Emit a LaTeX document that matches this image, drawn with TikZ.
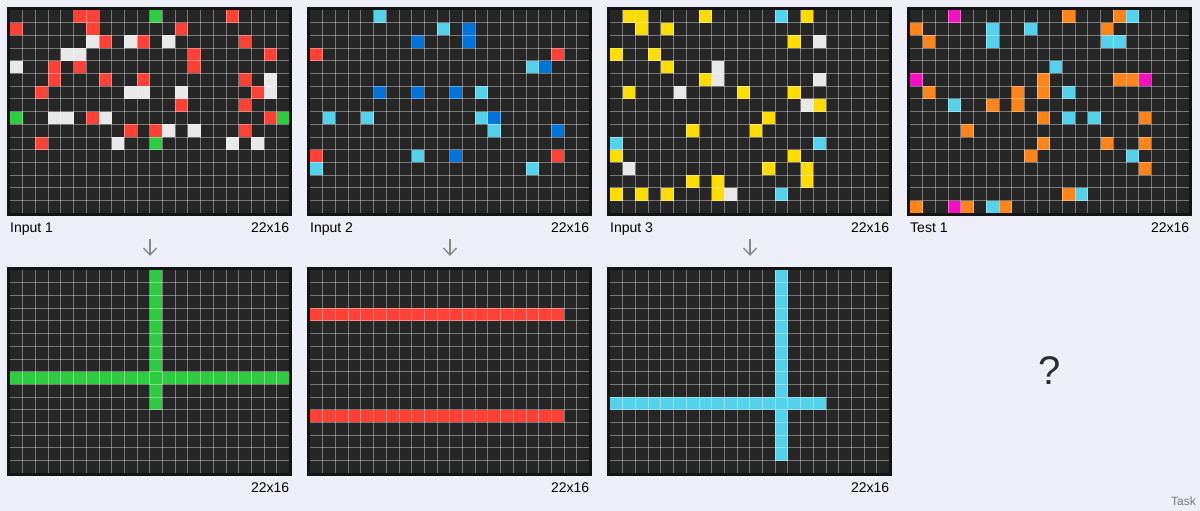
\documentclass[tikz,border=0pt]{standalone}
\usepackage{fontspec}
\setmainfont{Liberation Sans}
\usetikzlibrary{arrows.meta}
\definecolor{bg}{RGB}{238,238,246}
\definecolor{cellbg}{RGB}{38,38,38}
\definecolor{framec}{RGB}{20,20,20}
\definecolor{cR}{RGB}{255,65,54}
\definecolor{cG}{RGB}{46,204,64}
\definecolor{cW}{RGB}{232,232,232}
\definecolor{cB}{RGB}{0,116,217}
\definecolor{cC}{RGB}{85,210,235}
\definecolor{cY}{RGB}{255,220,0}
\definecolor{cO}{RGB}{255,133,27}
\definecolor{cM}{RGB}{240,18,190}
\definecolor{arrc}{RGB}{136,136,136}
\definecolor{qc}{RGB}{45,45,45}
\definecolor{taskc}{RGB}{120,120,120}
\newcommand{\arcgrid}[3]{%
  \begin{scope}[shift={(#1,-#2)}, x=12.7pt, y=-12.7pt]
    \fill[framec] (-0.236,-0.236) rectangle (22.236,16.236);
    \fill[cellbg] (0,0) rectangle (22,16);
    #3
    \foreach \i in {1,...,21} {\draw[gridline] (\i,0) -- (\i,16);}
    \foreach \j in {1,...,15} {\draw[gridline] (0,\j) -- (22,\j);}
  \end{scope}}
\newcommand{\cells}[1]{\foreach \r/\c/\k in {#1} {\fill[\k] (\c,\r) rectangle ++(1,1);}}
\tikzset{
  gridline/.style={white, line width=0.8pt, opacity=0.38},
  lab/.style={inner sep=0pt, font=\fontsize{14}{16}\selectfont, text=black},
  arr/.style={arrc, line width=1.4pt, -{Straight Barb[length=7pt,width=13pt]}},
}
\begin{document}
\begin{tikzpicture}[x=1pt,y=1pt]
\fill[bg] (0,0) rectangle (1200,-511);
\useasboundingbox (0,0) rectangle (1200,-511);
% Input 1
\arcgrid{10}{10}{\cells{0/5/cR,0/6/cR,0/11/cG,0/17/cR,
1/0/cR,1/6/cR,1/13/cR,
2/6/cW,2/7/cR,2/9/cW,2/10/cR,2/12/cW,2/18/cR,
3/4/cW,3/5/cW,3/14/cR,3/20/cR,
4/0/cW,4/3/cR,4/5/cR,4/14/cR,
5/3/cR,5/7/cR,5/10/cR,5/18/cR,5/20/cW,
6/2/cR,6/9/cW,6/10/cW,6/13/cW,6/19/cR,6/20/cW,
7/13/cR,7/18/cR,
8/0/cG,8/3/cW,8/4/cW,8/6/cR,8/7/cW,8/20/cR,8/21/cG,
9/9/cR,9/11/cR,9/12/cW,9/14/cW,9/18/cR,
10/2/cR,10/8/cW,10/11/cG,10/17/cW,10/19/cW}}
% Input 2
\arcgrid{310}{10}{\cells{0/5/cC,1/10/cC,1/12/cB,2/8/cB,2/12/cB,3/0/cR,3/19/cR,4/17/cC,4/18/cB,
6/5/cB,6/8/cB,6/11/cB,6/13/cC,8/1/cC,8/4/cC,8/13/cC,8/14/cB,9/14/cC,9/19/cB,
11/0/cR,11/8/cC,11/11/cB,11/19/cR,12/0/cC,12/17/cC}}
% Input 3
\arcgrid{610}{10}{\cells{0/1/cY,0/2/cY,0/7/cY,0/13/cC,0/15/cY,
1/2/cY,1/4/cY,
2/14/cY,2/16/cW,
3/0/cY,3/3/cY,
4/4/cY,4/8/cW,
5/7/cY,5/8/cW,5/16/cW,
6/1/cY,6/5/cW,6/10/cY,6/14/cY,
7/15/cW,7/16/cY,
8/12/cY,
9/6/cY,9/11/cY,
10/0/cC,10/16/cC,
11/0/cY,11/14/cY,
12/1/cW,12/12/cY,12/15/cY,
13/6/cY,13/8/cY,13/15/cY,
14/0/cY,14/2/cY,14/4/cY,14/8/cY,14/9/cW,14/13/cC}}
% Test 1
\arcgrid{910}{10}{\cells{0/3/cM,0/12/cO,0/16/cO,0/17/cC,
1/0/cO,1/6/cC,1/9/cC,1/15/cO,
2/1/cO,2/6/cC,2/15/cC,2/16/cC,
4/11/cC,
5/0/cM,5/10/cO,5/16/cO,5/17/cO,5/18/cM,
6/1/cO,6/8/cO,6/10/cO,6/12/cC,
7/3/cC,7/6/cO,7/8/cO,
8/10/cO,8/12/cC,8/14/cC,8/18/cO,
9/4/cO,
10/10/cO,10/15/cO,10/18/cO,
11/9/cO,11/17/cC,
12/18/cO,
14/12/cO,14/13/cC,
15/0/cO,15/3/cM,15/4/cO,15/6/cC,15/7/cO}}
% Outputs
\arcgrid{10}{270}{\fill[cG] (11,0) rectangle (12,11); \fill[cG] (0,8) rectangle (22,9);}
\arcgrid{310}{270}{\fill[cR] (0,3) rectangle (20,4); \fill[cR] (0,11) rectangle (20,12);}
\arcgrid{610}{270}{\fill[cC] (13,0) rectangle (14,15); \fill[cC] (0,10) rectangle (17,11);}
% Labels
\node[lab, anchor=base west] (in1) at (10,-232) {Input 1};
\node[lab, anchor=base east] (sz1) at (289.4,-232) {22x16};
\node[lab, anchor=base west] (in2) at (310,-232) {Input 2};
\node[lab, anchor=base east] (sz2) at (589.4,-232) {22x16};
\node[lab, anchor=base west] (in3) at (610,-232) {Input 3};
\node[lab, anchor=base east] (sz3) at (889.4,-232) {22x16};
\node[lab, anchor=base west] (ts1) at (910,-232) {Test 1};
\node[lab, anchor=base east] (sz4) at (1189.4,-232) {22x16};
\node[lab, anchor=base east] (so1) at (289.4,-492) {22x16};
\node[lab, anchor=base east] (so2) at (589.4,-492) {22x16};
\node[lab, anchor=base east] (so3) at (889.4,-492) {22x16};
% Arrows
\coordinate (a1s) at (150,-239); \coordinate (a1e) at (150,-256);
\coordinate (a2s) at (450,-239); \coordinate (a2e) at (450,-256);
\coordinate (a3s) at (750,-239); \coordinate (a3e) at (750,-256);
\draw[arr] (a1s) -- (a1e);
\draw[arr] (a2s) -- (a2e);
\draw[arr] (a3s) -- (a3e);
% Question mark and Task
\node[inner sep=0pt, text=qc, font=\fontsize{40}{44}\selectfont] (q) at (1050,-371) {?};
\node[inner sep=0pt, text=taskc, font=\fontsize{12}{14}\selectfont, anchor=base east] (task) at (1196,-505) {Task};
\end{tikzpicture}
\end{document}
